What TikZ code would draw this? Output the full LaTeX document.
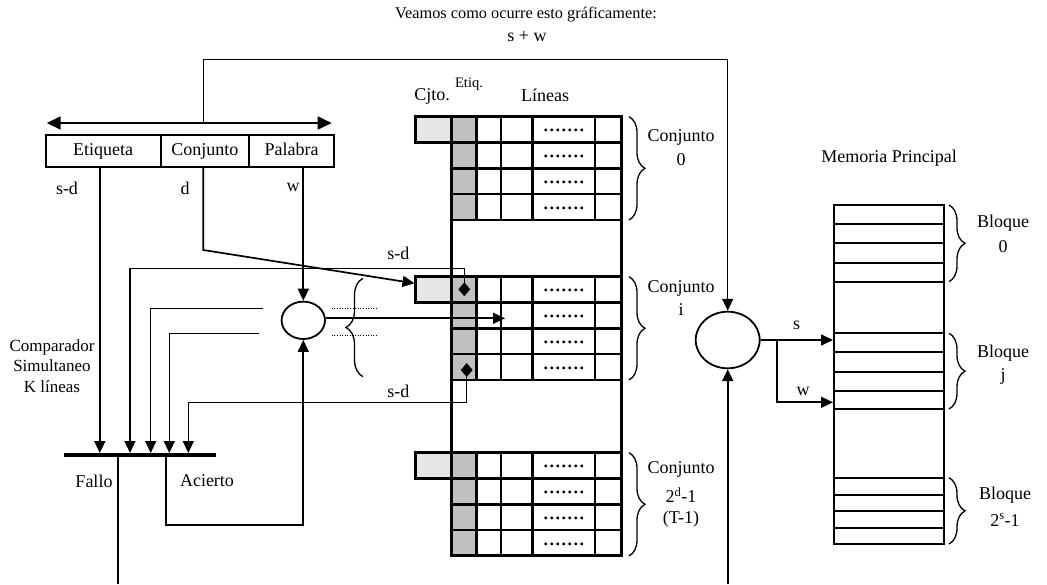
\documentclass[tikz,border=0pt]{standalone}
\usepackage{fontspec}
\setmainfont{Liberation Serif}
\usetikzlibrary{arrows.meta,shapes.geometric,decorations.pathreplacing}
\definecolor{lgray}{RGB}{230,230,230}
\definecolor{dgray}{RGB}{192,192,192}
\begin{document}
\begin{tikzpicture}[x=1pt,y=-1pt,
 lbl/.style={inner sep=0pt,font=\fontsize{18}{21}\selectfont},
 small/.style={inner sep=0pt,font=\fontsize{14.5}{16}\selectfont},
 field/.style={draw,line width=2.4pt,minimum height=32pt,inner sep=0pt,text height=12.5pt,text depth=4pt,font=\fontsize{18}{21}\selectfont},
 grid/.style={line width=2.6pt},
 memline/.style={line width=2.3pt},
 conn/.style={line width=1.7pt},
 thin/.style={line width=1.3pt},
 arr/.style={-{Triangle[length=12pt,width=11pt]}},
 brc/.style={thin,decorate,decoration={brace,amplitude=16pt}},
 dotsx/.style={inner sep=0pt,font=\fontsize{24}{24}\selectfont},
 dmk/.style={diamond,fill=black,inner sep=0pt,minimum width=12pt,minimum height=14pt},
 cmp/.style={draw,ellipse,line width=1.8pt,inner sep=0pt}]
\useasboundingbox (0,0) rectangle (1047,584);

% titles
\node[lbl,font=\fontsize{16.3}{19}\selectfont] (title) at (526,15) {Veamos como ocurre esto gráficamente:};
\node[lbl] (sw) at (527,37) {s + w};

% address fields
\node[field,minimum width=115pt] (etq) at (103.2,151) {Etiqueta};
\node[field,minimum width=88.3pt] (cjt) at (204.85,151) {Conjunto};
\node[field,minimum width=85pt] (pal) at (291.5,151) {Palabra};
\draw[conn,{Triangle[length=14pt,width=13pt]}-{Triangle[length=14pt,width=13pt]}] (46.7,123) -- (331.7,123);
\coordinate (topmid) at (203.3,123);

% comparators
\node[cmp,minimum width=43.4pt,minimum height=37.4pt] (cmpL) at (303.3,320.3) {};
\node[cmp,minimum width=64pt,minimum height=56.6pt] (cmpR) at (727.7,340) {};

% s + w line
\draw[thin,arr] (topmid) |- (727.7,59.3) -- (cmpR.north);

% lines from the address
\coordinate (sdB) at (99.8,167);
\coordinate (dB) at (203.3,167);
\coordinate (wB) at (303.3,167);
\draw[conn,arr] (sdB) -- (99.8,453);
\draw[conn,arr] (dB) -- (203.3,250) -- (414.5,283.3);
\draw[conn,arr] (wB) -- (cmpL.north);
\node[lbl] at (67,188) {s-d};
\node[lbl] at (185,188) {d};
\node[lbl] at (293,187) {w};

% cache
\foreach \t in {116.7,276.7,452.7} {
  \fill[lgray] (415.7,\t) rectangle (451.7,\t+25.8);
  \fill[dgray] (451.7,\t) rectangle (476.7,\t+103.2);
  \draw[grid] (415.7,\t) rectangle (451.7,\t+25.8);
  \foreach \k in {0,...,4} \draw[grid] (451.7,\t+\k*25.8) -- (621.7,\t+\k*25.8);
  \foreach \x in {476.7,501,532.7,595} \draw[grid] (\x,\t) -- (\x,\t+103.2);
  \foreach \k in {0,...,3} \node[dotsx] at (563.85,\t+\k*25.8+14) {.......};
}
\draw[grid] (451.7,116.7) rectangle (621.7,555.7);
\node[lbl] (cj) at (432,96) {Cjto.};
\node[small] (et) at (469,84) {Etiq.};
\node[lbl] (li) at (545,95) {Líneas};

% set braces and labels
\draw[brc] (629,116.7) -- (629,220);
\draw[brc] (629,276.7) -- (629,379.9);
\draw[brc] (629,452.7) -- (629,555.9);
\node[lbl] at (681,137) {Conjunto};
\node[lbl] at (681,160) {0};
\node[lbl] at (681,288) {Conjunto};
\node[lbl] at (681,310) {i};
\node[lbl] at (681,469) {Conjunto};
\node[lbl] at (681,495) {2\textsuperscript{d}-1};
\node[lbl] at (681,519) {(T-1)};

% tag comparison
\node[dmk] (dm1) at (464.3,289.3) {};
\node[dmk] (dm2) at (466.7,370) {};
\draw[thin,arr] (dm1.center) |- (130,268.3) -- (130,453);
\draw[thin,arr] (dm2.center) |- (188.3,402.7) -- (188.3,453);
\node[lbl] at (398.3,253.3) {s-d};
\node[lbl] at (398.3,391.7) {s-d};
\draw[conn,arr] ([yshift=2pt]cmpL.east) -- (505,318.3);
\draw[thin,arr] (263.3,308.3) -| (150.7,453);
\draw[thin,arr] (259.3,333.3) -| (169.3,453);
\draw[line width=0.9pt,dash pattern=on 1pt off 1.6pt] (331.7,308.3) -- (378.3,308.3);
\draw[line width=0.9pt,dash pattern=on 1pt off 1.6pt] (331.7,335) -- (376.7,335);
\draw[brc,decoration={amplitude=17pt}] (363,376.7) -- (363,278.3);

% comparator bar
\draw[line width=4pt] (64.3,455) coordinate (barL) -- (216,455) coordinate (barR);
\node[lbl,align=center,font=\fontsize{17}{20.5}\selectfont] at (52,366) {Comparador\\Simultaneo\\K líneas};
\node[lbl] at (94,481) {Fallo};
\node[lbl] at (207,481) {Acierto};
\draw[conn] (118.3,457) -- (118.3,584);
\draw[conn,arr] (166,457) |- (303.3,525) -- (cmpL.south);

% main memory side
\draw[conn,arr] (727.7,584) -- (cmpR.south);
\draw[conn,arr] (cmpR.east) -- (833,340);
\draw[conn,arr] (776.7,340) |- (833,402.3);
\node[lbl] at (796.7,325) {s};
\node[lbl] at (803,391.7) {w};
\node[lbl] at (889,158) {Memoria Principal};
\draw[memline] (834,205) rectangle (944,544);
\foreach \y in {224.3,243.3,262.7,281.7,333.3,352.3,371.7,390.7,409,477.7,495,511,527.7}
  \draw[memline] (834,\y) -- (944,\y);
\draw[brc] (949,205) -- (949,281.7);
\draw[brc] (949,333.3) -- (949,409);
\draw[brc] (949,477.7) -- (949,544);
\node[lbl] at (1003,223.3) {Bloque};
\node[lbl] at (1003,246.7) {0};
\node[lbl] at (1003,353.3) {Bloque};
\node[lbl] at (1003,376.7) {j};
\node[lbl] at (1005,495) {Bloque};
\node[lbl] at (1005,520) {2\textsuperscript{s}-1};
\end{tikzpicture}
\end{document}
